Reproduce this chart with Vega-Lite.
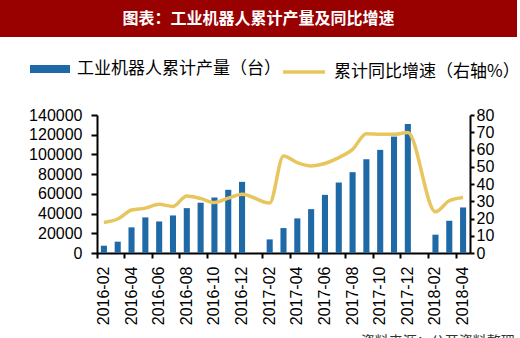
{
  "$schema": "https://vega.github.io/schema/vega-lite/v6.json",
  "padding": 0,
  "background": "white",
  "spacing": 70,
  "config": {"view": {"stroke": null}, "font": "Liberation Sans"},
  "datasets": {
    "banner": [{"t": "图表：工业机器人累计产量及同比增速"}],
    "main": [
      {"month": "2016-02", "output": 7400, "rate": 17.7},
      {"month": "2016-03", "output": 11500, "rate": 19.7},
      {"month": "2016-04", "output": 26000, "rate": 24.9},
      {"month": "2016-05", "output": 36100, "rate": 26.0},
      {"month": "2016-06", "output": 32000, "rate": 28.2},
      {"month": "2016-07", "output": 38100, "rate": 27.0},
      {"month": "2016-08", "output": 45500, "rate": 33.1},
      {"month": "2016-09", "output": 51000, "rate": 31.6},
      {"month": "2016-10", "output": 56300, "rate": 29.3},
      {"month": "2016-11", "output": 64100, "rate": 31.8},
      {"month": "2016-12", "output": 72200, "rate": 34.1},
      {"month": "2017-01", "output": null, "rate": null},
      {"month": "2017-02", "output": 13800, "rate": 29.0},
      {"month": "2017-03", "output": 25300, "rate": 56.3},
      {"month": "2017-04", "output": 35100, "rate": 52.4},
      {"month": "2017-05", "output": 44500, "rate": 50.5},
      {"month": "2017-06", "output": 59000, "rate": 51.9},
      {"month": "2017-07", "output": 71500, "rate": 55.3},
      {"month": "2017-08", "output": 82000, "rate": 60.1},
      {"month": "2017-09", "output": 95100, "rate": 69.2},
      {"month": "2017-10", "output": 104600, "rate": 68.8},
      {"month": "2017-11", "output": 118100, "rate": 68.8},
      {"month": "2017-12", "output": 130900, "rate": 69.8},
      {"month": "2018-01", "output": null, "rate": null},
      {"month": "2018-02", "output": 18600, "rate": 23.9},
      {"month": "2018-03", "output": 32700, "rate": 30.3},
      {"month": "2018-04", "output": 46200, "rate": 32.2}
    ]
  },
  "vconcat": [
    {
      "width": 517,
      "height": 37,
      "data": {"name": "banner"},
      "layer": [
        {"mark": {"type": "rect", "color": "#990000"}, "encoding": {}},
        {
          "mark": {"type": "text", "color": "white", "font": "Noto Sans CJK SC", "fontSize": 16, "fontWeight": "bold"},
          "encoding": {"text": {"field": "t"}}
        }
      ]
    },
    {
      "width": 470,
      "height": 138,
      "data": {"name": "main"},
      "title": {"text": "资料来源：公开资料整理", "orient": "bottom", "anchor": "end", "fontSize": 14, "font": "Noto Sans CJK SC", "fontWeight": "normal", "color": "#333333", "offset": 10, "dx": 21},
      "encoding": {
        "x": {
          "field": "month",
          "type": "ordinal",
          "sort": null,
          "scale": {
            "domain": ["2016-02","2016-03","2016-04","2016-05","2016-06","2016-07","2016-08","2016-09","2016-10","2016-11","2016-12","2017-01","2017-02","2017-03","2017-04","2017-05","2017-06","2017-07","2017-08","2017-09","2017-10","2017-11","2017-12","2018-01","2018-02","2018-03","2018-04"],
            "range": [97, 470],
            "paddingInner": 0,
            "paddingOuter": 0
          },
          "axis": {
            "values": ["2016-02","2016-04","2016-06","2016-08","2016-10","2016-12","2017-02","2017-04","2017-06","2017-08","2017-10","2017-12","2018-02","2018-04"],
            "bandPosition": 0,
            "labelAngle": -90,
            "labelAlign": "right",
            "labelBaseline": "middle",
            "labelFontSize": 16,
            "labelFont": "Liberation Sans",
            "labelColor": "#000000",
            "labelPadding": 8,
            "labelOverlap": false,
            "tickSize": 5,
            "tickWidth": 2,
            "tickColor": "#000000",
            "domainWidth": 2,
            "domainColor": "#000000",
            "grid": false,
            "title": null
          }
        }
      },
      "layer": [
        {
          "mark": {"type": "bar", "width": {"band": 0.44}},
          "encoding": {
            "y": {
              "field": "output",
              "type": "quantitative",
              "scale": {"domain": [0, 140000]},
              "axis": {
                "offset": -97,
                "values": [0, 20000, 40000, 60000, 80000, 100000, 120000, 140000],
                "format": "d",
                "grid": false,
                "labelFontSize": 16,
                "labelFont": "Liberation Sans",
                "labelColor": "#000000",
                "labelPadding": 9,
                "labelOverlap": false,
                "tickSize": 6,
                "tickWidth": 2,
                "tickColor": "#000000",
                "domainWidth": 2,
                "domainColor": "#000000",
                "title": null
              }
            },
            "fill": {
              "datum": "工业机器人累计产量（台）",
              "scale": {"range": ["#1F69A6"]},
              "legend": {
                "orient": "none",
                "legendX": 30,
                "legendY": 49,
                "title": null,
                "symbolType": "M-1,-0.2L1,-0.2L1,0.2L-1,0.2Z",
                "symbolSize": 1600,
                "symbolStrokeWidth": 0,
                "labelFont": "Noto Sans CJK SC",
                "labelFontSize": 17,
                "labelColor": "#000000",
                "labelOffset": 7,
                "labelLimit": 0,
                "padding": 0
              }
            }
          }
        },
        {
          "transform": [{"filter": "isValid(datum.rate)"}],
          "mark": {"type": "line", "interpolate": "monotone", "strokeWidth": 3.5},
          "encoding": {
            "y": {
              "field": "rate",
              "type": "quantitative",
              "scale": {"domain": [0, 80]},
              "axis": {
                "orient": "right",
                "values": [0, 10, 20, 30, 40, 50, 60, 70, 80],
                "grid": false,
                "labelFontSize": 16,
                "labelFont": "Liberation Sans",
                "labelColor": "#000000",
                "labelPadding": 2,
                "labelOverlap": false,
                "tickSize": 4,
                "tickWidth": 2,
                "tickColor": "#000000",
                "domainWidth": 2,
                "domainColor": "#000000",
                "title": null
              }
            },
            "stroke": {
              "datum": "累计同比增速（右轴%）",
              "scale": {"range": ["#E8C65F"]},
              "legend": {
                "orient": "none",
                "legendX": 281,
                "legendY": 49,
                "title": null,
                "symbolType": "stroke",
                "symbolSize": 1764,
                "symbolStrokeWidth": 3.5,
                "labelFont": "Noto Sans CJK SC",
                "labelFontSize": 17,
                "labelColor": "#000000",
                "labelOffset": 7,
                "labelLimit": 0,
                "padding": 0
              }
            }
          }
        }
      ],
      "resolve": {"scale": {"y": "independent"}}
    }
  ]
}
